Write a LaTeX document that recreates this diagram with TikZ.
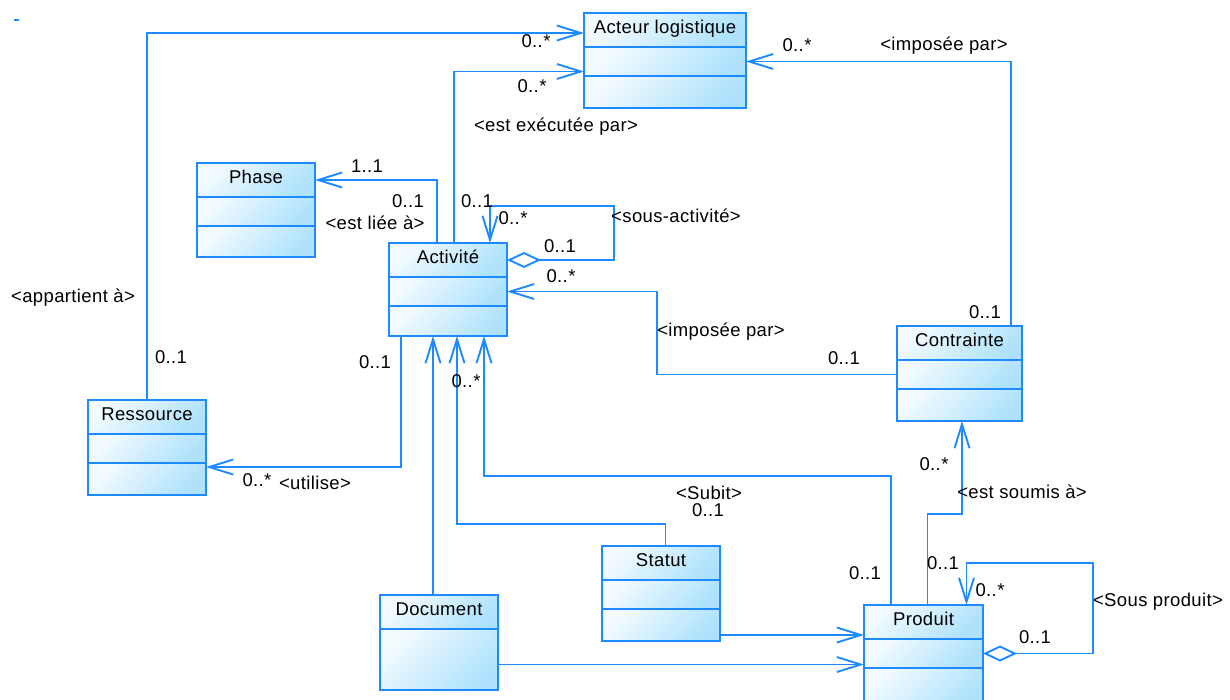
\documentclass[tikz,border=0pt]{standalone}
\usepackage{fontspec}
\setmainfont{Liberation Sans}[LetterSpace=2]
\usepackage{tikz}
\usetikzlibrary{arrows.meta,positioning,shadings}
\definecolor{umlblue}{RGB}{30,138,255}
\definecolor{umltop}{RGB}{244,251,255}
\definecolor{umlfill}{RGB}{174,226,252}

\begin{document}
\begin{tikzpicture}[
    x=1pt, y=-1pt,
    font=\fontsize{18.5}{22}\selectfont,
    classhead/.style={
		rectangle,
		draw=umlblue,
		line width=1.9pt,
		top color=umltop,
		bottom color=umlfill,
		shading angle=45,
		inner sep=0pt,
		outer sep=0pt,
		minimum height=34pt,
		text height=13pt,
		text depth=7pt
	},
	classpart/.style={
		classhead,
		minimum height=29pt
	},
	assoc/.style={
		draw=umlblue,
		line width=1.9pt,
		-{Straight Barb[length=24pt,width=15pt]}
	},
	aggr/.style={
		draw=umlblue,
		line width=1.9pt,
		{Diamond[length=34pt,width=16pt,fill=white]}-{Straight Barb[length=24pt,width=15pt]}
	},
	mult/.style={
		inner sep=0pt
	}
  ]
  \useasboundingbox (0,0) rectangle (1230,699);
  \draw [umlblue, line width=1.9pt] (14,20) -- (19,20);

    % classes
  \node [classhead, minimum width=162pt, anchor=north west] (acteur) at (584,13) {Acteur logistique};
  \node [classpart, minimum width=162pt, below=0pt of acteur] (acteur1) {};
  \node [classpart, minimum width=162pt, minimum height=32pt, below=0pt of acteur1] (acteur2) {};

  \node [classhead, minimum width=118pt, anchor=north west] (phase) at (197,163) {Phase};
  \node [classpart, minimum width=118pt, below=0pt of phase] (phase1) {};
  \node [classpart, minimum width=118pt, minimum height=31pt, below=0pt of phase1] (phase2) {};

  \node [classhead, minimum width=118pt, anchor=north west] (activite) at (389,243) {Activité};
  \node [classpart, minimum width=118pt, below=0pt of activite] (activite1) {};
  \node [classpart, minimum width=118pt, minimum height=30pt, below=0pt of activite1] (activite2) {};

  \node [classhead, minimum width=118pt, anchor=north west] (ressource) at (88,400) {Ressource};
  \node [classpart, minimum width=118pt, below=0pt of ressource] (ressource1) {};
  \node [classpart, minimum width=118pt, minimum height=32pt, below=0pt of ressource1] (ressource2) {};

  \node [classhead, minimum width=125pt, anchor=north west] (contrainte) at (897,326) {Contrainte};
  \node [classpart, minimum width=125pt, below=0pt of contrainte] (contrainte1) {};
  \node [classpart, minimum width=125pt, minimum height=32pt, below=0pt of contrainte1] (contrainte2) {};

  \node [classhead, minimum width=118pt, anchor=north west] (statut) at (602,546) {Statut};
  \node [classpart, minimum width=118pt, below=0pt of statut] (statut1) {};
  \node [classpart, minimum width=118pt, minimum height=32pt, below=0pt of statut1] (statut2) {};

  \node [classhead, minimum width=118pt, anchor=north west] (document) at (380,595) {Document};
  \node [classpart, minimum width=118pt, minimum height=61pt, below=0pt of document] (document1) {};

  \node [classhead, minimum width=119pt, anchor=north west] (produit) at (864,605) {Produit};
  \node [classpart, minimum width=119pt, below=0pt of produit] (produit1) {};
  \node [classpart, minimum width=119pt, minimum height=40pt, below=0pt of produit1] (produit2) {};

    % bends
  \coordinate (actloop) at (614,206);
  \coordinate (sbend) at (457,524);
  \coordinate (pbend) at (484,476);
  \coordinate (cbend) at (962,514);
  \coordinate (ploop) at (1093,563);

    % associations
  \draw [assoc] (ressource.north) |- ([yshift=-3pt]acteur.west);
  \draw [assoc] ([xshift=6pt]activite.north) |- ([yshift=-10pt]acteur1.west);
  \draw [assoc] ([xshift=-11pt]activite.north) |- (phase.east);
  \draw [aggr] (activite.east) -| (actloop) -| ([xshift=42pt]activite.north);
  \draw [assoc] (contrainte1.west) -| ([xshift=150pt]activite1.east) -- (activite1.east);
  \draw [assoc] ([xshift=51.5pt]contrainte.north) |- (acteur1.east);
  \draw [assoc] ([xshift=-47pt]activite2.south) |- ([yshift=12pt]ressource2.east);
  \draw [assoc] ([xshift=-6pt]document.north) -- ([xshift=-6pt]document.north |- activite2.south);
  \draw [assoc] ([xshift=4.5pt]statut.north) |- (sbend) -- (sbend |- activite2.south);
  \draw [assoc] ([xshift=-32.5pt]produit.north) |- (pbend) -- (pbend |- activite2.south);
  \draw [assoc] ([yshift=-10pt]statut2.east) -- ([yshift=-10pt]statut2.east -| produit.west);
  \draw [assoc] ([yshift=-5pt]document1.east) -- ([yshift=-5pt]document1.east -| produit.west);
  \draw [assoc] ([xshift=4pt]produit.north) |- (cbend) -- (cbend |- contrainte2.south);
  \draw [aggr] (produit1.east) -| (ploop) -| ([xshift=43pt]produit.north);

    % labels
  \node [mult] at (536,41) {0..*};
  \node [mult] at (532,86) {0..*};
  \node [mult] at (556,127) {<est exécutée par>};
  \node [mult] at (367,166) {1..1};
  \node [mult] at (408,201) {0..1};
  \node [mult] at (375,223) {<est liée à>};
  \node [mult] at (477,201) {0..1};
  \node [mult] at (513,218) {0..*};
  \node [mult] at (676,216) {<sous-activité>};
  \node [mult] at (560,246) {0..1};
  \node [mult] at (561,276) {0..*};
  \node [mult] at (797,45) {0..*};
  \node [mult] at (944,46) {<imposée par>};
  \node [mult] at (73,298) {<appartient à>};
  \node [mult] at (171,357) {0..1};
  \node [mult] at (721,332) {<imposée par>};
  \node [mult] at (844,358) {0..1};
  \node [mult] at (985,312) {0..1};
  \node [mult] at (375,362) {0..1};
  \node [mult] at (466,381) {0..*};
  \node [mult] at (257,480) {0..*};
  \node [mult] at (315,483) {<utilise>};
  \node [mult] at (934,464) {0..*};
  \node [mult] at (1022,492) {<est soumis à>};
  \node [mult] at (709,493) {<Subit>};
  \node [mult] at (708,510) {0..1};
  \node [mult] at (865,573) {0..1};
  \node [mult] at (943,563) {0..1};
  \node [mult] at (990,590) {0..*};
  \node [mult] at (1158,602) {<Sous produit>};
  \node [mult] at (1035,637) {0..1};

\end{tikzpicture}
\end{document}
